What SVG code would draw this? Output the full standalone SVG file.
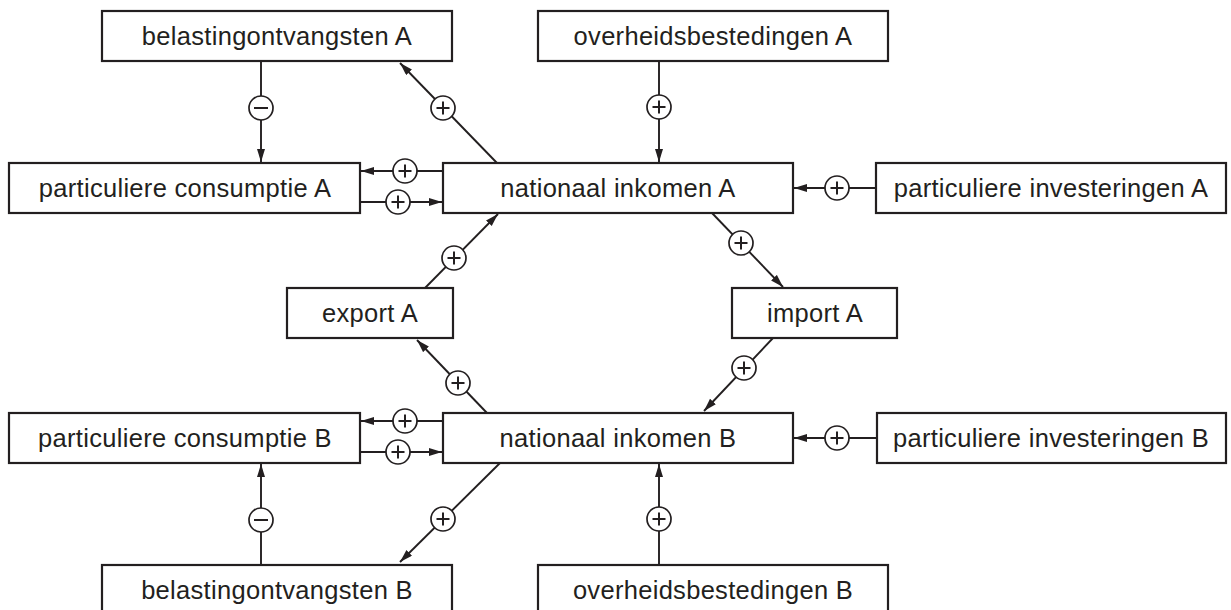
<svg xmlns="http://www.w3.org/2000/svg" xmlns:xlink="http://www.w3.org/1999/xlink" width="1231" height="610" viewBox="0 0 1231 610">
<style>
.box{fill:#fff;stroke:#231f20;stroke-width:2.2}
.lbl{font-family:"Liberation Sans",Arial,sans-serif;font-size:25.5px;letter-spacing:0.3px;fill:#231f20;text-anchor:middle}
.ln{stroke:#231f20;stroke-width:1.9;fill:none;marker-end:url(#ah)}
.sc{fill:#fff;stroke:#231f20;stroke-width:1.7}
.sg{stroke:#231f20;stroke-width:2;fill:none}
</style>
<defs>
<marker id="ah" markerUnits="userSpaceOnUse" markerWidth="14" markerHeight="9" refX="13" refY="4" orient="auto">
<path d="M0,0 L13,4 L0,8 z" fill="#231f20"/>
</marker>
<g id="plus"><circle class="sc" cx="0" cy="0" r="12"/><path class="sg" d="M-6.5,0 H6.5 M0,-6.5 V6.5"/></g>
<g id="minus"><circle class="sc" cx="0" cy="0" r="12"/><path class="sg" d="M-7,0 H7"/></g>
</defs>
<rect width="1231" height="610" fill="#fff"/>
<g id="connectors">
<line class="ln" x1="261" y1="61" x2="261" y2="162"/>
<use xlink:href="#minus" x="261" y="108"/>
<line class="ln" x1="497" y1="163" x2="400" y2="63"/>
<use xlink:href="#plus" x="443" y="108"/>
<line class="ln" x1="443" y1="171" x2="361" y2="171"/>
<use xlink:href="#plus" x="405" y="171"/>
<line class="ln" x1="360" y1="202" x2="442" y2="202"/>
<use xlink:href="#plus" x="398" y="202"/>
<line class="ln" x1="659" y1="61" x2="659" y2="162"/>
<use xlink:href="#plus" x="659" y="107"/>
<line class="ln" x1="876" y1="188" x2="794" y2="188"/>
<use xlink:href="#plus" x="837" y="188"/>
<line class="ln" x1="712" y1="213" x2="783" y2="287"/>
<use xlink:href="#plus" x="741" y="243"/>
<line class="ln" x1="425" y1="288" x2="498" y2="214"/>
<use xlink:href="#plus" x="454" y="258"/>
<line class="ln" x1="487" y1="413" x2="417" y2="340"/>
<use xlink:href="#plus" x="458" y="383"/>
<line class="ln" x1="773" y1="338" x2="704" y2="411"/>
<use xlink:href="#plus" x="744" y="368"/>
<line class="ln" x1="443" y1="421" x2="361" y2="421"/>
<use xlink:href="#plus" x="405" y="421"/>
<line class="ln" x1="360" y1="452" x2="442" y2="452"/>
<use xlink:href="#plus" x="398" y="452"/>
<line class="ln" x1="261" y1="565" x2="261" y2="464"/>
<use xlink:href="#minus" x="261" y="520"/>
<line class="ln" x1="500" y1="463" x2="400" y2="562"/>
<use xlink:href="#plus" x="443" y="519"/>
<line class="ln" x1="659" y1="565" x2="659" y2="464"/>
<use xlink:href="#plus" x="659" y="519"/>
<line class="ln" x1="877" y1="438" x2="794" y2="438"/>
<use xlink:href="#plus" x="837" y="438"/>
</g>
<g id="belastingontvangstenA"><rect class="box" x="102" y="11" width="350" height="50"/><text class="lbl" x="277" y="45">belastingontvangsten A</text></g>
<g id="overheidsbestedingenA"><rect class="box" x="538" y="11" width="350" height="50"/><text class="lbl" x="713" y="45">overheidsbestedingen A</text></g>
<g id="particuliereconsumptieA"><rect class="box" x="9" y="163" width="351" height="50"/><text class="lbl" x="185" y="197">particuliere consumptie A</text></g>
<g id="nationaalinkomenA"><rect class="box" x="443" y="163" width="350" height="50"/><text class="lbl" x="618" y="197">nationaal inkomen A</text></g>
<g id="particuliereinvesteringenA"><rect class="box" x="876" y="163" width="350" height="50"/><text class="lbl" x="1051" y="197">particuliere investeringen A</text></g>
<g id="exportA"><rect class="box" x="287" y="288" width="166" height="50"/><text class="lbl" x="370" y="322">export A</text></g>
<g id="importA"><rect class="box" x="732" y="288" width="165" height="50"/><text class="lbl" x="815" y="322">import A</text></g>
<g id="particuliereconsumptieB"><rect class="box" x="9" y="413" width="351" height="50"/><text class="lbl" x="185" y="447">particuliere consumptie B</text></g>
<g id="nationaalinkomenB"><rect class="box" x="443" y="413" width="350" height="50"/><text class="lbl" x="618" y="447">nationaal inkomen B</text></g>
<g id="particuliereinvesteringenB"><rect class="box" x="877" y="413" width="349" height="50"/><text class="lbl" x="1051" y="447">particuliere investeringen B</text></g>
<g id="belastingontvangstenB"><rect class="box" x="102" y="565" width="350" height="50"/><text class="lbl" x="277" y="599">belastingontvangsten B</text></g>
<g id="overheidsbestedingenB"><rect class="box" x="538" y="565" width="350" height="50"/><text class="lbl" x="713" y="599">overheidsbestedingen B</text></g>
</svg>
